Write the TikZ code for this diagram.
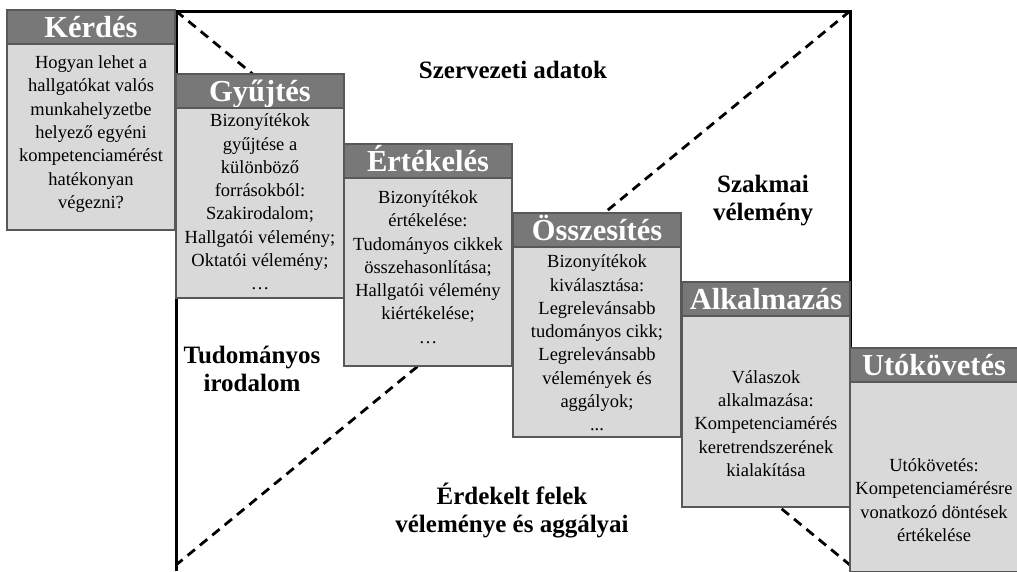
\documentclass[tikz,border=0pt]{standalone}
\usepackage{fontspec}
\setmainfont{Liberation Serif}
\usetikzlibrary{positioning}
\definecolor{hdrgray}{RGB}{120,120,120}
\definecolor{edgegray}{RGB}{88,88,88}
\definecolor{bodygray}{RGB}{217,217,217}

\begin{document}
\begin{tikzpicture}[x=1pt,y=-1pt,
  hdr/.style={draw=edgegray,fill=hdrgray,line width=2pt,outer sep=0pt,inner sep=0pt,
    minimum width=168,minimum height=34,anchor=north west,text=white,
    font=\bfseries\fontsize{30.5}{30}\selectfont,text height=21pt,text depth=0pt},
  bodybox/.style={draw=edgegray,fill=bodygray,line width=2pt,outer sep=0pt,inner sep=0pt,
    minimum width=168,below=0pt of #1},
  bodytext/.style={align=center,inner sep=0pt,font=\fontsize{18.5}{23.3}\selectfont},
  zone/.style={align=center,inner sep=0pt,font=\bfseries\fontsize{25}{28}\selectfont},
  diag/.style={line width=2.8pt,dash pattern=on 9.5pt off 6.5pt}]
\useasboundingbox (0,0) rectangle (1017,571);
% ---- frame corners (bottom edge falls below the picture) ----
\coordinate (tl) at (176,11);
\coordinate (tr) at (850,11);
\coordinate (bl) at (176,565);
\coordinate (br) at (850,565);
\draw[line width=3pt] (176,571) -- (tl) -- (tr) -- (850,571);
% ---- crossing diagonals ----
\draw[diag] (tl) -- (br);
\draw[diag] (tr) -- (bl);
% ---- step 1: Kérdés ----
\node[hdr] (kerdesH) at (7,10) {Kérdés};
\node[bodybox=kerdesH,minimum height=186] (kerdesB) {};
\node[bodytext] (kerdesT) at ([yshift=3]kerdesB.center)
  {Hogyan lehet a\\hallgatókat valós\\munkahelyzetbe\\helyező egyéni\\kompetenciamérést\\hatékonyan\\végezni?};
% ---- step 2: Gyűjtés ----
\node[hdr] (gyujtesH) at (176,74) {Gyűjtés};
\node[bodybox=gyujtesH,minimum height=190] (gyujtesB) {};
\node[bodytext] (gyujtesT) at ([yshift=1]gyujtesB.center)
  {Bizonyítékok\\gyűjtése a\\különböző\\forrásokból:\\Szakirodalom;\\Hallgatói vélemény;\\Oktatói vélemény;\\…};
% ---- step 3: Értékelés ----
\node[hdr] (ertekelesH) at (344,144) {Értékelés};
\node[bodybox=ertekelesH,minimum height=188] (ertekelesB) {};
\node[bodytext] (ertekelesT) at ([yshift=5]ertekelesB.center)
  {Bizonyítékok\\értékelése:\\Tudományos cikkek\\összehasonlítása;\\Hallgatói vélemény\\kiértékelése;\\…};
% ---- step 4: Összesítés ----
\node[hdr] (osszesitesH) at (513,213) {Összesítés};
\node[bodybox=osszesitesH,minimum height=190] (osszesitesB) {};
\node[bodytext] (osszesitesT) at ([yshift=-1]osszesitesB.center)
  {Bizonyítékok\\kiválasztása:\\Legrelevánsabb\\tudományos cikk;\\Legrelevánsabb\\vélemények és\\aggályok;\\...};
% ---- step 5: Alkalmazás ----
\node[hdr] (alkalmazasH) at (682,282) {Alkalmazás};
\node[bodybox=alkalmazasH,minimum height=191] (alkalmazasB) {};
\node[bodytext] (alkalmazasT) at ([yshift=-12]alkalmazasB.center)
  {Válaszok\\alkalmazása:\\Kompetenciamérés\\keretrendszerének\\kialakítása};
% ---- step 6: Utókövetés (runs off the bottom) ----
\node[hdr] (utokovetesH) at (850,348) {Utókövetés};
\node[bodybox=utokovetesH,minimum height=190] (utokovetesB) {};
\node[bodytext] (utokovetesT) at ([yshift=-23]utokovetesB.center)
  {Utókövetés:\\Kompetenciamérésre\\vonatkozó döntések\\értékelése};
% ---- the four source areas ----
\node[zone] (szervezeti) at (513,70) {Szervezeti adatok};
\node[zone] (szakmai) at (763,201) {Szakmai\\vélemény};
\node[zone] (tudomanyos) at (252,369) {Tudományos\\irodalom};
\node[zone] (erdekelt) at (512,511) {Érdekelt felek\\véleménye és aggályai};
\end{tikzpicture}
\end{document}
